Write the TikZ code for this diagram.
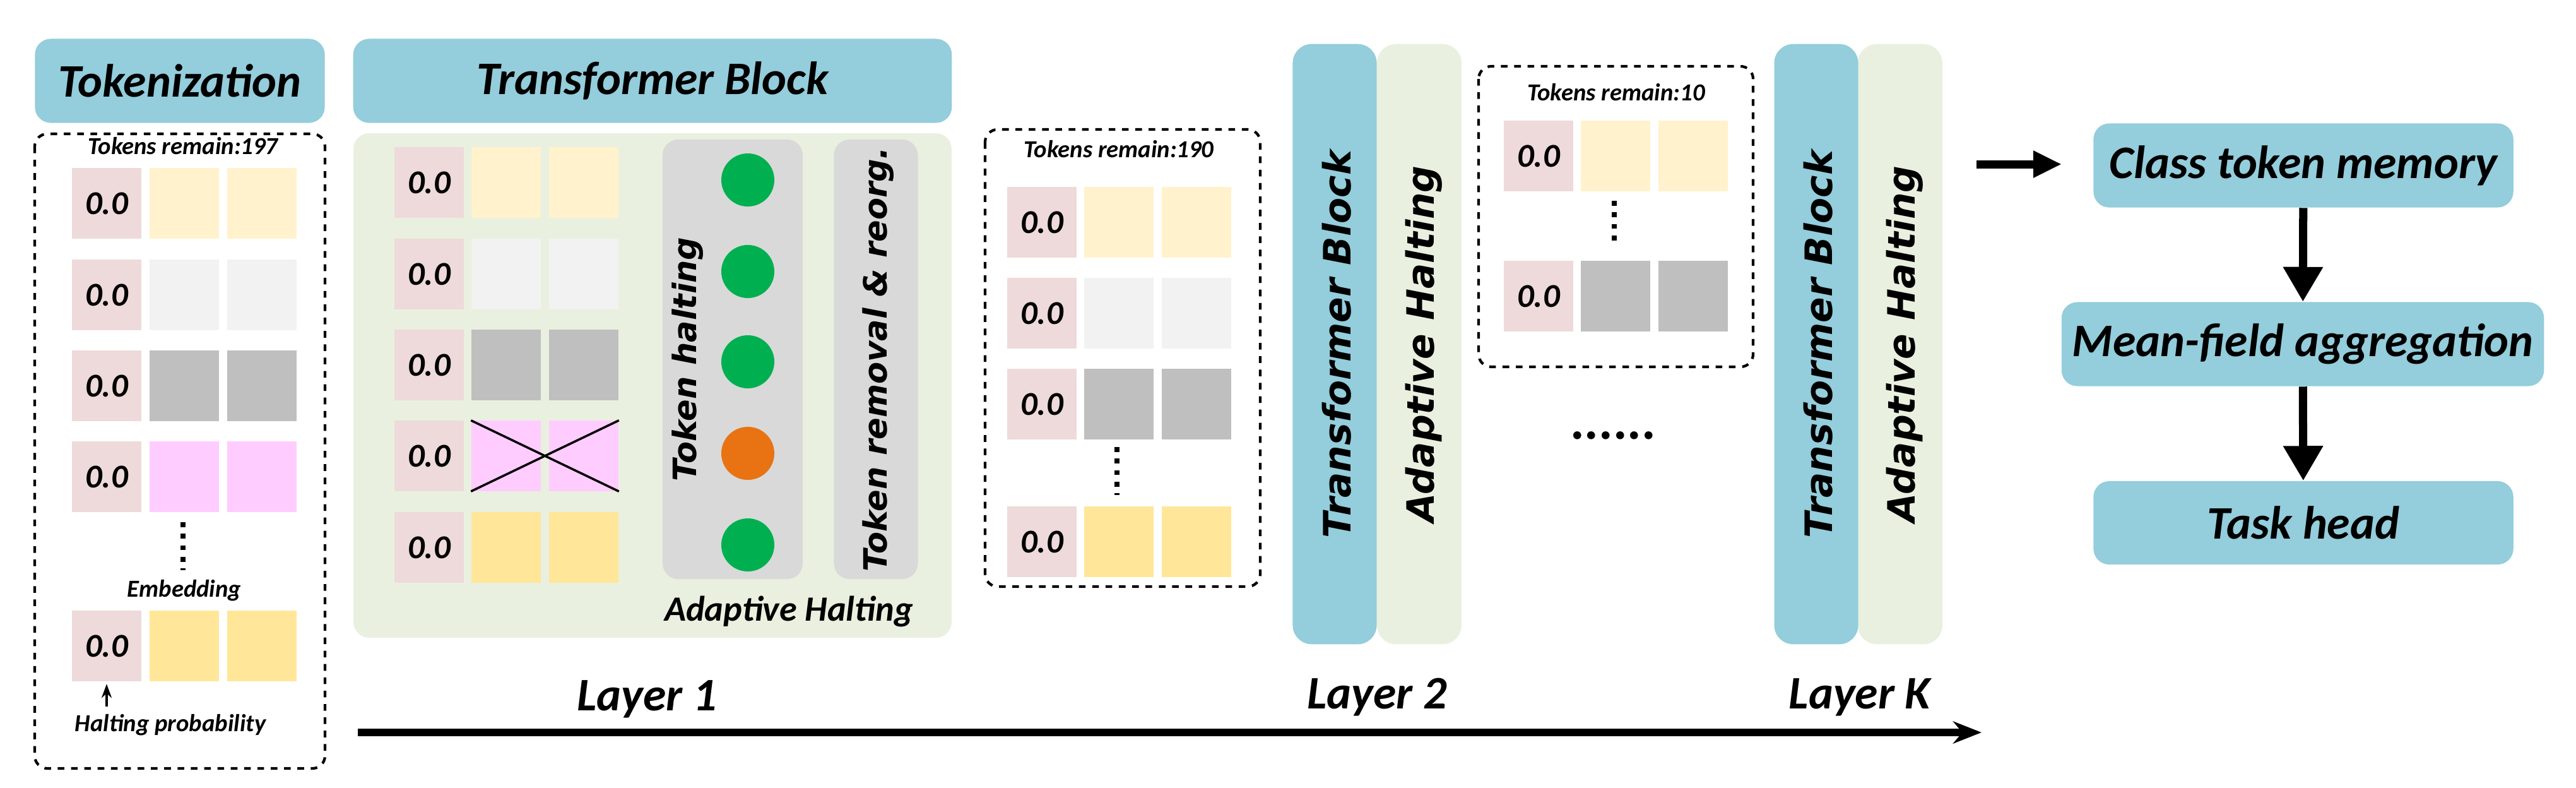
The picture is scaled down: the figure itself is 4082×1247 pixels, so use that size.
\documentclass[tikz,border=0pt]{standalone}
\usepackage{fontspec}
\setmainfont{Carlito}
\newfontfamily\dv{DejaVu Sans}
\usetikzlibrary{arrows.meta}
\definecolor{hblue}{HTML}{94CDDB}
\definecolor{pgreen}{HTML}{E9F0DF}
\definecolor{cpink}{HTML}{EEDADA}
\definecolor{cyel}{HTML}{FFF2CC}
\definecolor{clgray}{HTML}{F2F2F2}
\definecolor{cgray}{HTML}{BFBFBF}
\definecolor{cmag}{HTML}{FFCCFF}
\definecolor{cgold}{HTML}{FFE699}
\definecolor{pgray}{HTML}{D9D9D9}
\definecolor{cgreen}{HTML}{00B050}
\definecolor{corange}{HTML}{E97312}
\newcommand\mytokrow[6]{%
  \node[cell,fill=cpink] (#1a) at (#2,#5) {0.0};
  \node[cell,fill=#6] (#1b) at (#3,#5) {};
  \node[cell,fill=#6] (#1c) at (#4,#5) {};}
\begin{document}
\begin{tikzpicture}[x=0.01cm,y=-0.01cm,
  cell/.style={minimum width=1.1cm,minimum height=1.11cm,inner sep=0,font=\fontsize{15}{15}\selectfont\bfseries\itshape},
  head/.style={fill=hblue,rounded corners=0.25cm,font=\fontsize{21}{21}\selectfont\bfseries\itshape},
  dbox/.style={draw,dashed,line width=1.2pt,rounded corners=0.2cm},
  small/.style={font=\fontsize{11}{11}\selectfont\bfseries\itshape},
  vtext/.style={rotate=90,font=\dv\fontsize{17}{17}\selectfont\bfseries\itshape},
  vsmall/.style={rotate=90,font=\dv\fontsize{14.5}{14.5}\selectfont\bfseries\itshape},
  vdots/.style={line width=2.2pt,dash pattern=on 2.2pt off 3pt},
  fat/.style={line width=3.7pt,-{Triangle[length=0.55cm,width=0.6cm]}}]
\useasboundingbox (0,0) rectangle (4082,1247);
% Tokenization
\node[head,minimum width=4.59cm,minimum height=1.33cm] (tok) at (285,128) {Tokenization};
\draw[dbox] (55,212) rectangle (515,1217);
\node[small] (tr197) at (290,231) {Tokens remain:197};
\mytokrow{ta}{169}{292}{415}{322}{cyel}
\mytokrow{tb}{169}{292}{415}{467}{clgray}
\mytokrow{tc}{169}{292}{415}{611}{cgray}
\mytokrow{td}{169}{292}{415}{755}{cmag}
\mytokrow{te}{169}{292}{415}{1023}{cgold}
\coordinate (tdot1) at (290,827); \coordinate (tdot2) at (290,903);
\draw[vdots] (tdot1) -- (tdot2);
\node[small] (emb) at (292,935) {Embedding};
\node[small] (hp) at (270,1148) {Halting probability};
\draw[-{Stealth[length=0.22cm,width=0.16cm]},line width=1pt] (hp.north -| tea.south) -- ([yshift=-0.04cm]tea.south);
% Transformer block panel
\node[head,minimum width=9.48cm,minimum height=1.33cm] (tb1) at (1034,128) {Transformer Block};
\fill[pgreen,rounded corners=0.25cm] (560,211) rectangle (1508,1010);
\mytokrow{ra}{680}{802}{925}{289}{cyel}
\mytokrow{rb}{680}{802}{925}{434}{clgray}
\mytokrow{rc}{680}{802}{925}{578}{cgray}
\mytokrow{rd}{680}{802}{925}{722}{cmag}
\mytokrow{re}{680}{802}{925}{867}{cgold}
\draw[line width=1pt] (rdb.north west) -- (rdc.south east);
\draw[line width=1pt] (rdb.south west) -- (rdc.north east);
\node[fill=pgray,rounded corners=0.25cm,minimum width=2.22cm,minimum height=6.96cm] (halt) at (1161,569) {};
\node[fill=pgray,rounded corners=0.25cm,minimum width=1.33cm,minimum height=6.96cm] (remo) at (1388,569) {};
\node[vsmall] (thl) at (1090,569) {Token halting};
\node[vsmall] (trr) at (1392,569) {Token removal \& reorg.};
\foreach \n/\yy/\cc in {1/285/cgreen,2/430/cgreen,3/573/cgreen,4/718/corange,5/863/cgreen}
  \node[circle,fill=\cc,minimum size=0.84cm,inner sep=0] (ci\n) at (1185,\yy) {};
\node[font=\fontsize{16}{16}\selectfont\bfseries\itshape] (ah1) at (1250,968) {Adaptive Halting};
% Tokens remain 190
\draw[dbox] (1561,205) rectangle (1997,929);
\node[small] (tr190) at (1773,236) {Tokens remain:190};
\mytokrow{sa}{1651}{1773}{1896}{352}{cyel}
\mytokrow{sb}{1651}{1773}{1896}{496}{clgray}
\mytokrow{sc}{1651}{1773}{1896}{640}{cgray}
\mytokrow{sd}{1651}{1773}{1896}{858}{cgold}
\coordinate (sdot1) at (1770,708); \coordinate (sdot2) at (1770,784);
\draw[vdots] (sdot1) -- (sdot2);
% Layer 2 bars
\node[fill=pgreen,rounded corners=0.3cm,minimum width=1.34cm,minimum height=9.5cm] (ah2) at (2249,545) {};
\node[fill=hblue,rounded corners=0.3cm,minimum width=1.33cm,minimum height=9.5cm] (tb2) at (2115,545) {};
\node[vtext] at (2118,545) {Transformer Block};
\node[vtext] at (2256,545) {Adaptive Halting};
% Tokens remain 10
\draw[dbox] (2343,105) rectangle (2778,581);
\node[small] (tr10) at (2561,146) {Tokens remain:10};
\mytokrow{ua}{2438}{2560}{2683}{247}{cyel}
\mytokrow{ub}{2438}{2560}{2683}{469}{cgray}
\coordinate (udot1) at (2558,318); \coordinate (udot2) at (2558,391);
\draw[vdots] (udot1) -- (udot2);
\node[font=\fontsize{24}{24}\selectfont\bfseries] (hdots) at (2556,690) {......};
% Layer K bars
\node[fill=pgreen,rounded corners=0.3cm,minimum width=1.34cm,minimum height=9.5cm] (ahk) at (3011,545) {};
\node[fill=hblue,rounded corners=0.3cm,minimum width=1.33cm,minimum height=9.5cm] (tbk) at (2878,545) {};
\node[vtext] at (2881,545) {Transformer Block};
\node[vtext] at (3018,545) {Adaptive Halting};
% Layer axis
\node[font=\fontsize{21}{21}\selectfont\bfseries\itshape] (l1) at (1025,1107) {Layer 1};
\node[font=\fontsize{21}{21}\selectfont\bfseries\itshape] (l2) at (2182,1104) {Layer 2};
\node[font=\fontsize{21}{21}\selectfont\bfseries\itshape] (lk) at (2947,1104) {Layer K};
\coordinate (ax1) at (567,1160); \coordinate (ax2) at (3140,1160);
\draw[line width=3.4pt,-{Stealth[length=0.45cm,width=0.35cm]}] (ax1) -- (ax2);
% Right pipeline
\node[head,minimum width=6.65cm,minimum height=1.33cm] (ctm) at (3650,262) {Class token memory};
\node[head,minimum width=7.64cm,minimum height=1.33cm] (mfa) at (3649,545) {Mean-field aggregation};
\node[head,minimum width=6.65cm,minimum height=1.32cm] (th) at (3650,828) {Task head};
\coordinate (sa1) at (3132,260); \coordinate (sa2) at (3267,260);
\draw[line width=3.7pt,-{Triangle[length=0.45cm,width=0.4cm]}] (sa1) -- (sa2);
\draw[fat] (ctm) -- (mfa);
\draw[fat] (mfa) -- (th);
\end{tikzpicture}
\end{document}
